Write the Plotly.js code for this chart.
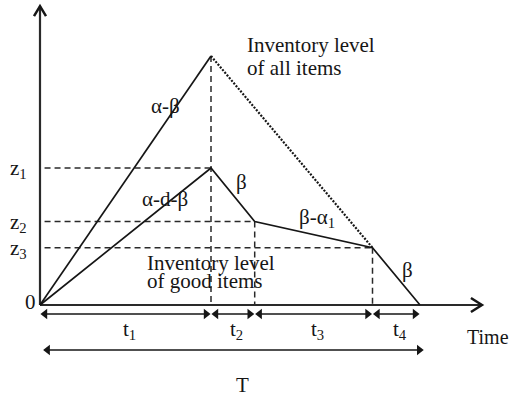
<!DOCTYPE html>
<html>
<head>
<meta charset="utf-8">
<script src="https://cdn.plot.ly/plotly-3.0.1.min.js"></script>
<style>
  html, body { margin: 0; padding: 0; background: #fff; }
  #chart { width: 512px; height: 397px; }
</style>
</head>
<body>
<div id="chart"></div>
<script>
// Phase boundaries on the time axis: 0, end of t1, end of t2, end of t3, end of t4 (= T)
const boundaries = [0, 4.5, 5.65, 8.75, 10];
// Inventory of good items at each boundary
const goodLevel = [0, 5.5, 3.35, 2.3, 0];
// Peak inventory of all items (reached at end of t1)
const peakAll = 10;
// Level labels on the vertical axis
const levelLabels = ['z<sub>1</sub>', 'z<sub>2</sub>', 'z<sub>3</sub>'];
// Phase labels under the time axis
const phaseLabels = ['t<sub>1</sub>', 't<sub>2</sub>', 't<sub>3</sub>', 't<sub>4</sub>'];
// Rate labels along the line segments
const rateLabels = ['α-β', 'α-d-β', 'β', 'β-α<sub>1</sub>', 'β'];

const INK = '#161616';
const SERIF = 'Liberation Serif';
const FS = 21;

// axis extents (data units)
const xAxisEnd = 11.63;
const yAxisEnd = 12.0;

const traces = [];

// axes
traces.push({ x: [0, xAxisEnd], y: [0, 0], mode: 'lines', line: { color: '#2a2a2a', width: 2.2 } });
traces.push({ x: [0, 0], y: [0, yAxisEnd], mode: 'lines', line: { color: '#2a2a2a', width: 2.2 } });

// guide lines: horizontal from the axis to each z level, vertical down to the time axis
const gx = [], gy = [];
for (let i = 1; i <= 3; i++) {
  gx.push(0.12, boundaries[i], null);
  gy.push(goodLevel[i], goodLevel[i], null);
}
gx.push(boundaries[1], boundaries[1], null); gy.push(peakAll, 0, null);
gx.push(boundaries[2], boundaries[2], null); gy.push(goodLevel[2], 0, null);
gx.push(boundaries[3], boundaries[3], null); gy.push(goodLevel[3], 0, null);
traces.push({ x: gx, y: gy, mode: 'lines', connectgaps: false,
  line: { color: '#2a2a2a', width: 1.5, dash: '6px,4px' } });

// inventory of all items: build-up, then depletion (dotted) until it meets the good-items line
traces.push({ x: [boundaries[0], boundaries[1]], y: [0, peakAll], mode: 'lines',
  line: { color: INK, width: 1.7 } });
traces.push({ x: [boundaries[1], boundaries[3]], y: [peakAll, goodLevel[3]], mode: 'lines',
  line: { color: INK, width: 2.2, dash: '2px,1.5px' } });

// inventory of good items
traces.push({ x: boundaries, y: goodLevel, mode: 'lines', line: { color: INK, width: 1.7 } });

// double-headed spans under the time axis
function span(x0, x1, y) {
  traces.push({
    x: [x0, x1], y: [y, y], mode: 'lines+markers',
    line: { color: INK, width: 1.6 },
    marker: { symbol: ['triangle-left', 'triangle-right'], size: 9, color: INK }
  });
}
const rowPhase = -0.36, rowTotal = -1.81;
for (let i = 0; i < 4; i++) {
  span(boundaries[i] + 0.13, boundaries[i + 1] - 0.13, rowPhase);
}
span(boundaries[0] + 0.2, boundaries[4] - 0.02, rowTotal);

const annotations = [];
function label(text, x, y, opts) {
  annotations.push(Object.assign({
    text: text, x: x, y: y, xref: 'x', yref: 'y', showarrow: false,
    font: { family: SERIF, size: FS, color: INK }, xanchor: 'center', yanchor: 'middle'
  }, opts || {}));
}

for (let i = 0; i < 4; i++) {
  label(phaseLabels[i], (boundaries[i] + boundaries[i + 1]) / 2, -1.0, { xshift: 4 });
}
label('T', (boundaries[0] + boundaries[4]) / 2, -3.21, { xshift: 12 });
label('Time', 12.39, -1.29, { xanchor: 'right', font: { family: SERIF, size: 20, color: INK } });

// level labels
label('0', -0.26, 0.12);
for (let i = 0; i < 3; i++) {
  label(levelLabels[i], -0.29, goodLevel[i + 1] - 0.05, { xanchor: 'right' });
}

// rate labels
label(rateLabels[0], 3.29, 7.99);
label(rateLabels[1], 3.29, 4.26);
label(rateLabels[2], 5.29, 4.94);
label(rateLabels[3], 7.29, 3.49);
label(rateLabels[4], 9.66, 1.41);

// curve captions
label('Inventory level', 5.4, 10.44, { xanchor: 'left' });
label('of all items', 5.4, 9.52, { xanchor: 'left' });
label('Inventory level', 2.77, 1.69, { xanchor: 'left' });
label('of good items', 2.77, 0.96, { xanchor: 'left' });

// open arrowheads at the axis ends
const shapes = [
  { type: 'path', xref: 'x', yref: 'y', xsizemode: 'pixel', ysizemode: 'pixel',
    xanchor: 0, yanchor: yAxisEnd, path: 'M-6,-10L0,0L6,-10',
    line: { color: INK, width: 2.5 } },
  { type: 'path', xref: 'x', yref: 'y', xsizemode: 'pixel', ysizemode: 'pixel',
    xanchor: xAxisEnd, yanchor: 0, path: 'M-11,7L0,0L-11,-7',
    line: { color: INK, width: 2.5 } }
];

const layout = {
  width: 512, height: 397,
  margin: { l: 0, r: 0, t: 0, b: 0 },
  paper_bgcolor: '#fff', plot_bgcolor: '#fff',
  showlegend: false,
  font: { family: SERIF },
  xaxis: { range: [-40 / 38, 472 / 38], visible: false, fixedrange: true },
  yaxis: { range: [-92 / 24.9, 305 / 24.9], visible: false, fixedrange: true },
  annotations: annotations,
  shapes: shapes
};

traces.forEach(t => { t.hoverinfo = 'skip'; });
Plotly.newPlot('chart', traces, layout, { staticPlot: true, displayModeBar: false });
</script>
</body>
</html>
